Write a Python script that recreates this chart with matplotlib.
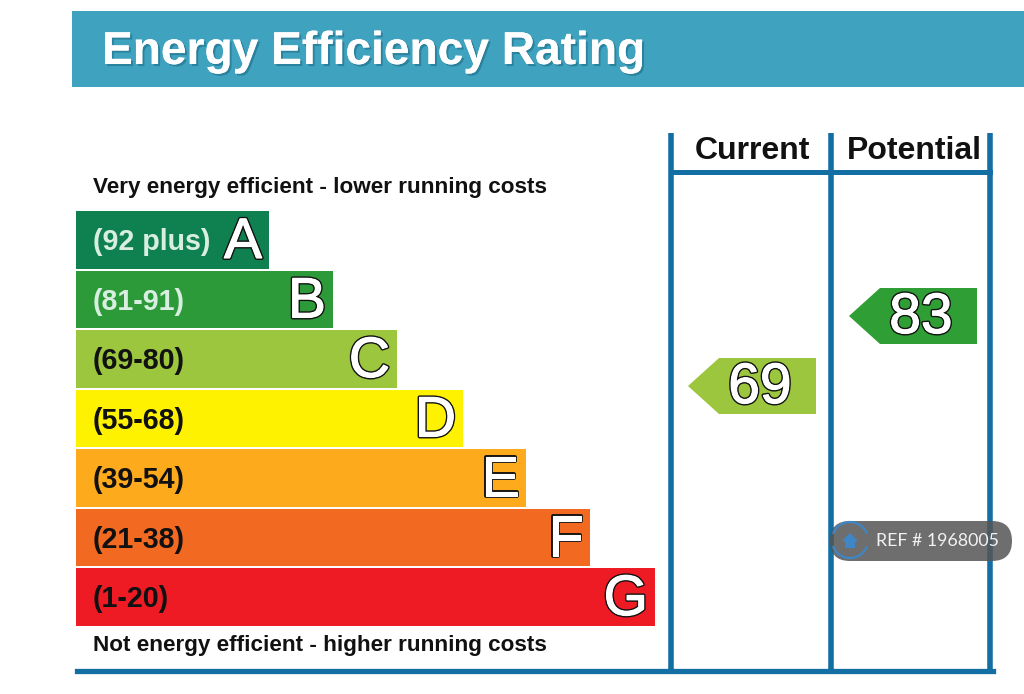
import matplotlib
matplotlib.use("Agg")
import matplotlib.pyplot as plt
import matplotlib.patheffects as pe
from matplotlib.patches import FancyBboxPatch, Arc, Polygon, Rectangle

bands = ["(92 plus)", "(81-91)", "(69-80)", "(55-68)", "(39-54)", "(21-38)", "(1-20)"]
letters = ["A", "B", "C", "D", "E", "F", "G"]
bar_widths = [193, 257, 321, 387, 450, 514, 579]
bar_colors = ["#0f8050", "#2c9a39", "#9cc63d", "#fff200", "#fdaa1c", "#f26a22", "#ee1b24"]
label_colors = ["#d8eee0", "#d8eee0", "#111111", "#111111", "#111111", "#111111", "#111111"]
columns = ["Current", "Potential"]
ratings = [69, 83]
rating_colors = ["#9cc63d", "#2f9e34"]

BLUE = "#126ea3"
INK = "#111111"

plt.rcParams["font.family"] = "Liberation Sans"

fig = plt.figure(figsize=(10.24, 6.94), dpi=100)
ax = fig.add_axes([0, 0, 1, 1])
ax.set_xlim(0, 1024)
ax.set_ylim(694, 0)
ax.axis("off")


def rating_y(value):
    return 386 - (value - 69) * 5.0


def outlined(x, y, s, size, ha="center"):
    # dark rim, then a slightly fattened white fill, as in the EPC graphic
    ax.text(x, y, s, fontsize=size, color="white", ha=ha, va="center",
            path_effects=[pe.withStroke(linewidth=2.8, foreground=INK),
                          pe.withStroke(linewidth=0.8, foreground="white")])


# header banner
ax.add_patch(Rectangle((72, 11), 952, 76, color="#3fa2bf", lw=0))
ax.text(102, 52, "Energy Efficiency Rating", fontsize=33.2, fontweight="bold",
        color="white", va="center",
        path_effects=[pe.withSimplePatchShadow(offset=(1.5, -1.5), shadow_rgbFace="#1d6d85", alpha=0.6),
                      pe.Normal()])

ax.text(93, 187, "Very energy efficient - lower running costs", fontsize=16.2,
        fontweight="bold", color=INK, va="center")
ax.text(93, 646, "Not energy efficient - higher running costs", fontsize=16.2,
        fontweight="bold", color=INK, va="center")

# rating bands
for i, (band, letter, width, color, tc) in enumerate(
        zip(bands, letters, bar_widths, bar_colors, label_colors)):
    top = 211 + i * 59.5
    ax.barh(top + 29, width, height=57.5, left=76, color=color, lw=0)
    ax.text(93, top + 31, band, fontsize=20.6, fontweight="bold", color=tc, va="center")
    outlined(76 + width - 7, top + 32, letter, 41, ha="right")

# table lines
for x in [671, 831, 990]:
    ax.plot([x, x], [133, 671], color=BLUE, lw=4, solid_capstyle="butt")
ax.plot([671, 990], [172, 172], color=BLUE, lw=3.6)
ax.plot([77, 993], [671, 671], color=BLUE, lw=3.8)

for name, x in zip(columns, [752, 914]):
    ax.text(x, 151, name, fontsize=23, fontweight="bold", color=INK,
            ha="center", va="center")

# rating arrows
for value, color, x_tip in zip(ratings, rating_colors, [688, 849]):
    y = rating_y(value)
    pts = [(x_tip, y), (x_tip + 31, y - 28), (x_tip + 128, y - 28),
           (x_tip + 128, y + 28), (x_tip + 31, y + 28)]
    ax.add_patch(Polygon(pts, closed=True, color=color, lw=0))
    outlined(x_tip + 72, y + 2, str(value), 41)

# watermark pill
pill = FancyBboxPatch((830, 521), 182, 40, boxstyle="round,pad=0,rounding_size=20",
                      fc="#555555", ec="none", alpha=0.85, zorder=5)
ax.add_patch(pill)
for start, end in [(200, 340), (20, 160)]:
    ax.add_patch(Arc((850, 540), 36, 36, theta1=start, theta2=end, ec="#3f86c6",
                     lw=1.6, zorder=6))
ax.add_patch(Polygon([(842, 541), (850, 533), (858, 541), (855, 541), (855, 548),
                      (845, 548), (845, 541)], closed=True, fc="#3f86c6", lw=0, zorder=6))
ax.text(876, 541, "REF # 1968005", fontsize=12.8, color="#f2f2f2", va="center",
        family="Lato", zorder=6)

fig.savefig("out.png", dpi=100)
